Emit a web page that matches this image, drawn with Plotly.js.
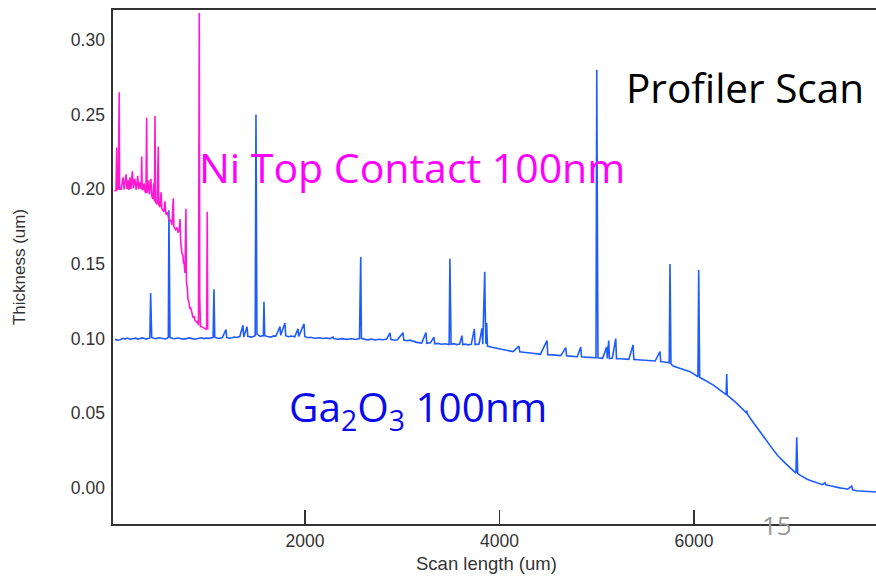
<!DOCTYPE html>
<html>
<head>
<meta charset="utf-8">
<script src="https://cdn.plot.ly/plotly-3.0.1.min.js"></script>
<style>
  html, body { margin: 0; padding: 0; background: #ffffff; }
  #chart { width: 876px; height: 582px; }
</style>
</head>
<body>
<div id="chart"></div>
<script>
// Ga2O3 film profile (blue)
const gaX = [46,70,100,125,150,175,200,230,260,280,300,325,350,370,395,405,413,418,424,445,470,500,530,560,585,595,601,606,612,635,660,690,720,750,780,810,840,870,900,930,960,990,1020,1055,1064,1072,1095,1120,1150,1188,1195,1220,1250,1275,1300,1330,1362,1370,1404,1412,1450,1488,1496,1500,1506,1540,1572,1578,1586,1615,1650,1675,1700,1743,1750,1794,1802,1830,1860,1895,1928,1936,1990,1998,2030,2060,2100,2150,2185,2220,2255,2288,2296,2340,2380,2430,2480,2520,2560,2573,2580,2615,2650,2685,2720,2760,2800,2840,2874,2882,2920,2950,3008,3016,3050,3080,3115,3150,3200,3244,3252,3290,3326,3334,3370,3400,3440,3482,3490,3495,3502,3530,3560,3590,3614,3622,3650,3680,3710,3741,3749,3790,3820,3828,3848,3852,3860,3868,3876,3920,3950,3980,4020,4060,4100,4140,4200,4208,4245,4280,4320,4360,4390,4420,4488,4496,4540,4580,4630,4681,4689,4720,4760,4800,4835,4843,4880,4920,4960,4992,5000,5003,5006,5012,5060,5102,5108,5123,5130,5160,5195,5203,5240,5280,5330,5373,5381,5420,5460,5510,5560,5600,5650,5658,5690,5720,5745,5753,5757,5763,5784,5830,5870,5915,5959,6000,6040,6048,6052,6058,6090,6120,6160,6195,6230,6270,6300,6330,6336,6342,6375,6410,6440,6473,6505,6536,6542,6548,6576,6600,6630,6655,6679,6705,6730,6755,6782,6805,6830,6860,6884,6910,6940,6965,6987,7020,7048,7056,7060,7066,7090,7110,7135,7159,7195,7230,7265,7296,7320,7347,7355,7400,7430,7467,7500,7540,7580,7622,7630,7673,7710,7760,7810,7861,7900];
const gaY = [0.0995,0.0990,0.0993,0.1002,0.0997,0.1004,0.0996,0.1001,0.1003,0.0996,0.0999,0.1005,0.1001,0.0997,0.1002,0.1005,0.1306,0.1210,0.1008,0.1003,0.1000,0.1006,0.1002,0.0998,0.1003,0.1010,0.1860,0.1170,0.1008,0.1003,0.0999,0.1004,0.1001,0.0997,0.1000,0.1005,0.1000,0.0996,0.1001,0.1006,0.1000,0.1004,0.1002,0.1008,0.1330,0.1010,0.1004,0.1001,0.1007,0.1060,0.1008,0.1003,0.1006,0.1011,0.1008,0.1014,0.1090,0.1010,0.1080,0.1015,0.1010,0.1020,0.2500,0.1900,0.1030,0.1015,0.1020,0.1246,0.1020,0.1014,0.1010,0.1018,0.1016,0.1080,0.1022,0.1105,0.1020,0.1013,0.1017,0.1012,0.1065,0.1015,0.1100,0.1015,0.1006,0.1009,0.1003,0.1006,0.1001,0.1004,0.1000,0.1010,0.1000,0.0996,0.1000,0.0995,0.0999,0.0994,0.1000,0.1547,0.1002,0.0995,0.0992,0.0997,0.0991,0.0996,0.0993,0.0998,0.1038,0.0995,0.0989,0.0992,0.1040,0.0990,0.0986,0.0990,0.0980,0.0975,0.0970,0.1040,0.0968,0.0972,0.1010,0.0965,0.0968,0.0962,0.0966,0.0960,0.1534,0.1125,0.0962,0.0966,0.0960,0.0964,0.1020,0.0960,0.0963,0.0958,0.0962,0.1065,0.0960,0.0964,0.1070,0.0962,0.1447,0.1226,0.0965,0.1105,0.0950,0.0942,0.0938,0.0935,0.0930,0.0925,0.0920,0.0913,0.0950,0.0912,0.0909,0.0905,0.0903,0.0900,0.0898,0.0895,0.0987,0.0892,0.0891,0.0888,0.0886,0.0940,0.0885,0.0883,0.0880,0.0879,0.0944,0.0878,0.0876,0.0874,0.0874,0.0872,0.2800,0.1775,0.1206,0.0872,0.0868,0.0944,0.0868,0.0987,0.0866,0.0870,0.1000,0.0866,0.0865,0.0863,0.0861,0.0958,0.0861,0.0859,0.0857,0.0855,0.0852,0.0850,0.0913,0.0846,0.0843,0.0840,0.0838,0.1500,0.1125,0.0830,0.0817,0.0808,0.0800,0.0790,0.0779,0.0762,0.0745,0.1460,0.1125,0.0740,0.0730,0.0720,0.0706,0.0690,0.0674,0.0655,0.0640,0.0625,0.0763,0.0620,0.0603,0.0585,0.0566,0.0545,0.0526,0.0505,0.0518,0.0497,0.0469,0.0447,0.0420,0.0398,0.0377,0.0352,0.0330,0.0308,0.0288,0.0265,0.0242,0.0218,0.0200,0.0182,0.0165,0.0150,0.0136,0.0118,0.0100,0.0340,0.0240,0.0096,0.0086,0.0078,0.0068,0.0060,0.0050,0.0042,0.0034,0.0027,0.0022,0.0035,0.0022,0.0015,0.0010,0.0005,0.0001,-0.0003,-0.0008,0.0013,-0.0012,-0.0018,-0.0020,-0.0022,-0.0025,-0.0027,-0.0028];

// Ni top contact profile (magenta)
const niX = [40,57,64,68,80,90,94,110,130,140,160,170,180,190,200,210,225,235,250,265,280,290,305,316,321,326,334,345,355,365,372,377,390,400,415,425,437,445,452,458,463,480,492,497,509,520,528,550,560,571,585,600,620,632,646,652,670,684,694,705,715,722,735,745,750,758,766,776,781,790,797,805,815,825,835,850,860,870,886,895,905,913,918,925,938,960,975,989,995,1000,1003];
const niY = [0.1990,0.1990,0.2280,0.1995,0.2005,0.2650,0.2000,0.2000,0.2080,0.1998,0.2100,0.2000,0.2060,0.1995,0.2080,0.2000,0.2120,0.2005,0.2070,0.1998,0.2090,0.2000,0.2050,0.2000,0.2220,0.2000,0.1995,0.2040,0.1985,0.1975,0.2480,0.1975,0.2060,0.1965,0.2070,0.1955,0.1935,0.2040,0.1920,0.2490,0.1915,0.1900,0.2286,0.1895,0.1880,0.1980,0.1870,0.1850,0.1920,0.1830,0.1845,0.1800,0.1790,0.1760,0.1940,0.1750,0.1730,0.1745,0.1710,0.1720,0.1800,0.1650,0.1570,0.1560,0.1510,0.1500,0.1440,0.1870,0.1380,0.1340,0.1260,0.1255,0.1200,0.1205,0.1180,0.1140,0.1150,0.1120,0.1110,0.1115,0.1090,0.3180,0.1280,0.1080,0.1080,0.1070,0.1065,0.1060,0.1850,0.1065,0.1070];

const xTicks = [2000, 4000, 6000];
const yTicks = [0.00, 0.05, 0.10, 0.15, 0.20, 0.25, 0.30];
const yTickText = ['0.00','0.05','0.10','0.15','0.20','0.25','0.30'];

const traces = [
  {x: gaX, y: gaY, type: 'scatter', mode: 'lines', name: 'Ga2O3',
   line: {color: '#1f5cff', width: 1.6}, hoverinfo: 'skip'},
  {x: niX, y: niY, type: 'scatter', mode: 'lines', name: 'Ni',
   line: {color: '#ff1ad0', width: 1.6}, hoverinfo: 'skip'}
];

const axisFont = {family: 'Liberation Sans, Arial, sans-serif', size: 17.5, color: '#333333'};
const labelFont = 'Open Sans, Calibri, sans-serif';

const layout = {
  width: 876, height: 582,
  margin: {l: 113, r: 0, t: 10, b: 58, autoexpand: false},
  paper_bgcolor: '#ffffff', plot_bgcolor: '#ffffff',
  showlegend: false,
  xaxis: {
    range: [26, 7871], tickvals: xTicks, ticktext: xTicks.map(String),
    ticks: 'inside', ticklen: 14, tickwidth: 1.5, tickcolor: '#333333',
    showline: true, linecolor: '#333333', linewidth: 1.6, mirror: true,
    showgrid: false, zeroline: false, tickfont: axisFont,
    ticklabelstandoff: 0
  },
  yaxis: {
    range: [-0.0241, 0.3200], tickvals: yTicks, ticktext: yTickText,
    ticks: '', showline: true, linecolor: '#333333', linewidth: 1.6,
    showgrid: false, zeroline: false, tickfont: axisFont,
    ticklabelstandoff: 3,
    title: {text: 'Thickness (um)', font: {family: axisFont.family, size: 17, color: '#333333'}, standoff: 41}
  },
  annotations: [
    {xref: 'paper', yref: 'paper', x: 0.4895, y: -0.0759, text: 'Scan length (um)', showarrow: false,
     xanchor: 'center', yanchor: 'middle', font: {family: axisFont.family, size: 18.5, color: '#333333'}},
    {xref: 'paper', yref: 'paper', x: 0.828, y: 0.850, text: 'Profiler Scan', showarrow: false,
     xanchor: 'center', yanchor: 'middle', font: {family: labelFont, size: 40.5, color: '#000000'}},
    {xref: 'paper', yref: 'paper', x: 0.3925, y: 0.6946, text: 'Ni Top Contact 100nm', showarrow: false,
     xanchor: 'center', yanchor: 'middle', font: {family: labelFont, size: 41, color: '#ff00ff'}},
    {xref: 'paper', yref: 'paper', x: 0.3997, y: 0.2237, text: 'Ga<sub>2</sub>O<sub>3</sub> 100nm', showarrow: false,
     xanchor: 'center', yanchor: 'middle', font: {family: labelFont, size: 40.5, color: '#0a0aee'}},
    {xref: 'paper', yref: 'paper', x: 0.870, y: -0.002, text: '15', showarrow: false,
     xanchor: 'center', yanchor: 'middle', font: {family: labelFont, size: 26, color: '#9a9a9a'}}
  ]
};

Plotly.newPlot('chart', traces, layout, {staticPlot: true, displayModeBar: false});
</script>
</body>
</html>
